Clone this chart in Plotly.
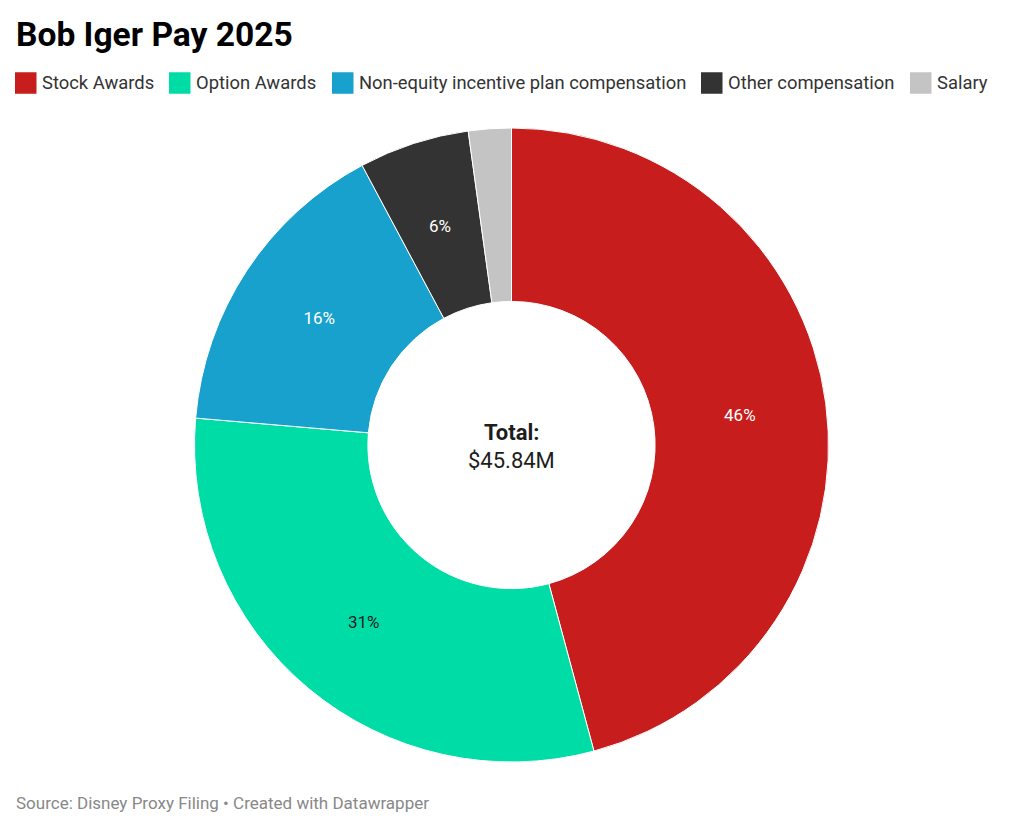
import math
import plotly.graph_objects as go

# the page body has an 8px margin, so the figure is drawn 8px in from the window edge
WIN_W, WIN_H = 1024, 829
OFF = 8
W, H = WIN_W - 2 * OFF, WIN_H - 2 * OFF
FONT = "Roboto"

# data (millions of USD)
categories = [
    "Stock Awards",
    "Option Awards",
    "Non-equity incentive plan compensation",
    "Other compensation",
    "Salary",
]
values_musd = [21.00, 14.00, 7.26, 2.58, 1.00]
colors = ["#c71e1d", "#00dca6", "#18a1cd", "#333333", "#c4c4c4"]
label_colors = ["#ffffff", "#1d1d1d", "#ffffff", "#ffffff", "#ffffff"]

total = sum(values_musd)
shares = [v / total for v in values_musd]

# legend swatch left edges (window px) - drawn by hand so the squares match
legend_x = [15, 169, 332, 701, 910]
legend_y = 83

HOLE = 0.453
PIE_X = (194.5, 828.5)
PIE_Y = (128, 762)


def px_x(x):
    return (x - OFF) / W


def px_y(y):
    return 1 - (y - OFF) / H


# big slices: plotly puts the label at mid ring; thin slices get pushed outward,
# so those labels are placed as annotations at the slice's mid angle / mid ring
pie_text = []
extra_labels = []
cum = 0.0
for s, col in zip(shares, label_colors):
    mid = (cum + s / 2) * 2 * math.pi
    cum += s
    if s < 0.03:
        pie_text.append("")
    elif s < 0.10:
        pie_text.append("")
        extra_labels.append((f"{s:.0%}", mid, col))
    else:
        pie_text.append(f"{s:.0%}")

fig = go.Figure()

fig.add_trace(go.Pie(
    labels=categories,
    values=values_musd,
    sort=False,
    direction="clockwise",
    rotation=0,
    hole=HOLE,
    marker=dict(colors=colors, line=dict(color="#ffffff", width=1)),
    text=pie_text,
    textinfo="text",
    textposition="inside",
    insidetextorientation="horizontal",
    insidetextfont=dict(family=FONT, size=17, color=label_colors),
    hovertemplate="%{label}<br>$%{value:.2f}M<extra></extra>",
    showlegend=False,
    domain=dict(x=[px_x(PIE_X[0]), px_x(PIE_X[1])], y=[px_y(PIE_Y[1]), px_y(PIE_Y[0])]),
))

shapes = []
annotations = []
for name, col, x0 in zip(categories, colors, legend_x):
    shapes.append(dict(
        type="rect", xref="paper", yref="paper",
        x0=px_x(x0), x1=px_x(x0 + 21.5),
        y0=px_y(legend_y + 10.75), y1=px_y(legend_y - 10.75),
        fillcolor=col, line=dict(width=0),
    ))
    annotations.append(dict(
        text=name, xref="paper", yref="paper",
        x=px_x(x0 + 25), y=px_y(legend_y), xanchor="left", yanchor="middle",
        showarrow=False, font=dict(family=FONT, size=18.4, color="#333333"),
    ))

cx = (PIE_X[0] + PIE_X[1]) / 2
cy = (PIE_Y[0] + PIE_Y[1]) / 2
radius = min(PIE_X[1] - PIE_X[0], PIE_Y[1] - PIE_Y[0]) / 2
r_mid = radius * (1 + HOLE) / 2
for txt, ang, col in extra_labels:
    annotations.append(dict(
        text=txt, xref="paper", yref="paper",
        x=px_x(cx + r_mid * math.sin(ang)), y=px_y(cy - r_mid * math.cos(ang)),
        xanchor="center", yanchor="middle",
        showarrow=False, font=dict(family=FONT, size=17, color=col),
    ))

# centre of the donut
annotations.append(dict(
    text="<b>Total:</b>", xref="paper", yref="paper",
    x=px_x(cx), y=px_y(432), xanchor="center", yanchor="middle",
    showarrow=False, font=dict(family=FONT, size=22, color="#1d1d1d"),
))
annotations.append(dict(
    text=f"${total:.2f}M", xref="paper", yref="paper",
    x=px_x(cx), y=px_y(460), xanchor="center", yanchor="middle",
    showarrow=False, font=dict(family=FONT, size=22, color="#1d1d1d"),
))

# footer
annotations.append(dict(
    text="Source: Disney Proxy Filing \u2022 Created with Datawrapper",
    xref="paper", yref="paper",
    x=px_x(14), y=px_y(803), xanchor="left", yanchor="middle",
    showarrow=False, font=dict(family=FONT, size=17, color="#888888"),
))

fig.update_layout(
    title=dict(
        text="<b>Bob Iger Pay 2025</b>",
        x=px_x(16), xanchor="left",
        y=px_y(34), yanchor="middle",
        font=dict(family=FONT, size=33.6, color="#000000"),
    ),
    shapes=shapes,
    annotations=annotations,
    width=W,
    height=H,
    margin=dict(l=0, r=0, t=0, b=0),
    paper_bgcolor="#ffffff",
    plot_bgcolor="#ffffff",
    font=dict(family=FONT),
)

fig.write_html("out.html")
